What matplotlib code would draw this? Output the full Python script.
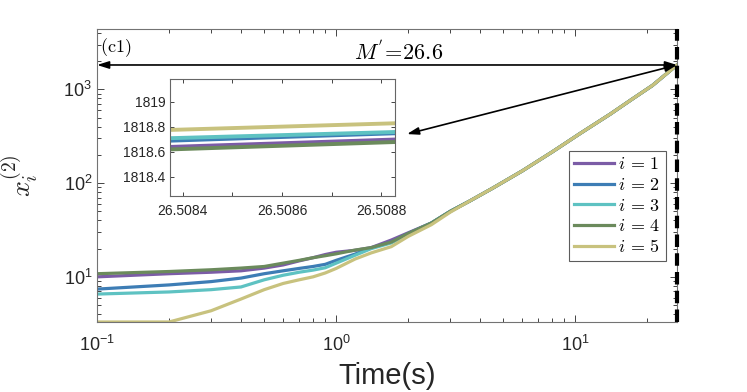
import matplotlib.pyplot as plt
import numpy as np
from matplotlib.ticker import FixedLocator, FixedFormatter, NullFormatter, LogLocator

plt.rcParams['mathtext.fontset'] = 'cm'
plt.rcParams['font.family'] = ['Liberation Sans', 'DejaVu Sans']

# time samples (s)
t = [0.1, 0.2, 0.3, 0.4, 0.5, 0.6, 0.7, 0.8, 0.9, 1.0, 1.2, 1.4, 1.7, 2.0,
     2.5, 3.0, 3.6, 4.5, 6.0, 8.0, 10.5, 14, 17, 21, 26.6]
tail = [37.5, 50, 64, 88, 135, 215, 340, 545, 765, 1100, 1818.7]
x1 = [10.0, 10.8, 11.2, 11.6, 12.4, 13.4, 14.8, 16.0, 17.3, 18.3, 19.2, 20.5, 24.7, 29.5] + tail
x2 = [7.4, 8.2, 8.9, 9.7, 10.8, 11.6, 12.3, 12.9, 13.6, 15.0, 17.5, 20.3, 23.5, 29.0] + tail
x3 = [6.55, 6.9, 7.3, 7.8, 9.3, 10.4, 11.2, 11.8, 12.5, 14.0, 17.0, 20.0, 23.0, 28.5] + tail
x4 = [10.8, 11.4, 11.9, 12.4, 12.9, 14.0, 15.0, 16.0, 16.8, 17.6, 19.3, 20.5, 23.5, 29.0] + tail
x5 = [3.3, 3.3, 4.35, 5.8, 7.3, 8.5, 9.3, 10.0, 11.0, 12.3, 15.5, 18.0, 21.0, 27.0,
      36.0, 49, 64, 88, 135, 215, 340, 545, 765, 1100, 1818.7]
series = [x1, x2, x3, x4, x5]
labels = [r'$i\,=\,1$', r'$i\,=\,2$', r'$i\,=\,3$', r'$i\,=\,4$', r'$i\,=\,5$']
colors = ['#7b5ca6', '#3d7db5', '#5ec2c2', '#6b8a5c', '#c8c27e']

# zoomed values near the end time
tz = [26.50837, 26.50883]
z1 = [1818.64, 1818.70]
z2 = [1818.69, 1818.75]
z3 = [1818.71, 1818.76]
z4 = [1818.62, 1818.68]
z5 = [1818.776, 1818.83]
zoom_series = [z1, z2, z3, z4, z5]
M = 26.6
xend = 1818.7

fig = plt.figure(figsize=(7.47, 3.92), dpi=100)
ax = fig.add_axes([0.1299, 0.1786, 0.7764, 0.7474])
for y, c, lab in zip(series, colors, labels):
    ax.plot(t, y, color=c, lw=2.3, label=lab)
ax.set_xscale('log')
ax.set_yscale('log')
ax.set_xlim(0.1, M)
ax.set_ylim(3.3, 4400)
ax.axvline(M, color='k', lw=3, ls=(0, (3, 1.5)), clip_on=False, zorder=5)

ax.tick_params(which='both', direction='in', top=True, right=True,
               colors='0.15', labelsize=13)
ax.tick_params(which='major', length=5, width=0.6)
ax.tick_params(which='minor', length=3, width=0.6)
ax.tick_params(axis='x', which='major', pad=9)
ax.yaxis.set_minor_locator(LogLocator(subs=np.arange(2, 10)))
ax.yaxis.set_minor_formatter(NullFormatter())
for s in ax.spines.values():
    s.set_color('0.45')
    s.set_linewidth(0.8)
ax.set_xlabel('Time(s)', fontsize=21, color='0.15', labelpad=5)
ax.set_ylabel('$x_i^{(2)}$', fontsize=20, color='0.15', labelpad=17)

leg = ax.legend(loc='upper right', bbox_to_anchor=(0.981, 0.5836), fontsize=13,
                frameon=True, fancybox=False, edgecolor='0.2', handlelength=2.2,
                labelspacing=0.2, borderpad=0.3, handletextpad=0.25, borderaxespad=0)
leg.get_frame().set_linewidth(0.8)

ax.text(0.005, 0.975, r'$\mathrm{(c1)}$', transform=ax.transAxes, ha='left', va='top',
        fontsize=13)
ax.annotate('', xy=(0.1, xend), xytext=(M, xend),
            arrowprops=dict(arrowstyle='<|-|>,head_length=0.7,head_width=0.22',
                            color='k', lw=1.2, shrinkA=0, shrinkB=0))
ax.text(0.52, 0.92, r"$M^{'}\!=\!26.6$", transform=ax.transAxes,
        ha='center', va='center', fontsize=16)
ax.annotate('', xy=(0.5448, 0.658), xycoords='figure fraction',
            xytext=(M, xend), textcoords='data',
            arrowprops=dict(arrowstyle='<|-|>,head_length=0.7,head_width=0.22',
                            color='k', lw=1.2, shrinkA=0, shrinkB=0))

# inset
axin = fig.add_axes([0.2276, 0.5, 0.3012, 0.2985])
for y, c in zip(zoom_series, colors):
    axin.plot(tz, y, color=c, lw=2.8)
axin.set_xlim(26.508374, 26.508828)
axin.set_ylim(1818.248, 1819.184)
xt = [26.5084, 26.5085, 26.5086, 26.5087, 26.5088]
xtl = ['26.5084', '', '26.5086', '', '26.5088']
yt = [1818.4, 1818.6, 1818.8, 1819]
ytl = ['1818.4', '1818.6', '1818.8', '1819']
axin.xaxis.set_major_locator(FixedLocator(xt))
axin.xaxis.set_major_formatter(FixedFormatter(xtl))
axin.yaxis.set_major_locator(FixedLocator(yt))
axin.yaxis.set_major_formatter(FixedFormatter(ytl))
axin.tick_params(direction='in', top=True, right=True, length=3, width=0.6,
                 colors='0.15', labelsize=10)
axin.tick_params(axis='x', pad=6)
for s in axin.spines.values():
    s.set_color('0.4')
    s.set_linewidth(0.8)

fig.savefig('out.png', dpi=100)
